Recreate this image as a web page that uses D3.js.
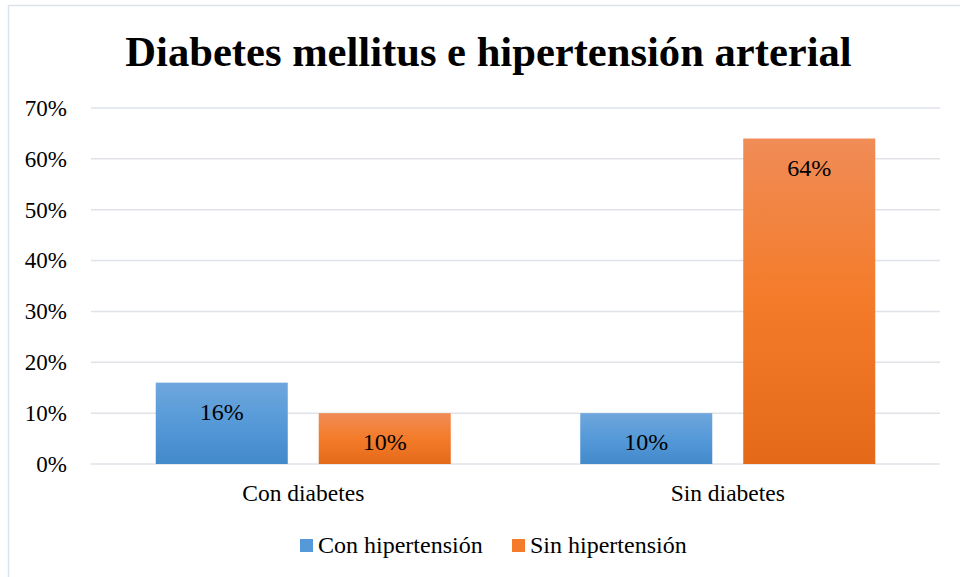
<!DOCTYPE html>
<meta charset="utf-8">
<script src="https://d3js.org/d3.v7.min.js"></script>
<style>
  body { margin: 0; background: #fff; }
  text { font-family: "Liberation Serif", "Times New Roman", serif; fill: #000; }
</style>
<div id="my_dataviz"></div>
<script>

// data
var categories = ["Con diabetes", "Sin diabetes"];
var seriesNames = ["Con hipertensión", "Sin hipertensión"];
var conHipertension = [0.16, 0.10];
var sinHipertension = [0.10, 0.64];
var yTicks = [0, 0.1, 0.2, 0.3, 0.4, 0.5, 0.6, 0.7];

var W = 960, H = 577;
var margin = {top: 108, right: 20, bottom: 113, left: 91},
    width = 940 - margin.left,
    height = 464 - margin.top;

var svg = d3.select("#my_dataviz")
  .append("svg")
    .attr("width", W)
    .attr("height", H);

// gradients for the bars
var defs = svg.append("defs");
var gBlue = defs.append("linearGradient").attr("id", "gBlue").attr("x1", 0).attr("y1", 0).attr("x2", 0).attr("y2", 1);
gBlue.append("stop").attr("offset", "0%").attr("stop-color", "#6fa7dd");
gBlue.append("stop").attr("offset", "50%").attr("stop-color", "#5599d8");
gBlue.append("stop").attr("offset", "100%").attr("stop-color", "#438acb");
var gOrange = defs.append("linearGradient").attr("id", "gOrange").attr("x1", 0).attr("y1", 0).attr("x2", 0).attr("y2", 1);
gOrange.append("stop").attr("offset", "0%").attr("stop-color", "#f08c57");
gOrange.append("stop").attr("offset", "50%").attr("stop-color", "#f47b29");
gOrange.append("stop").attr("offset", "100%").attr("stop-color", "#e46a1a");

// chart frame (top and left edges visible)
svg.append("path")
  .attr("d", "M8.5," + H + " V5.5 H" + W)
  .attr("fill", "none")
  .attr("stroke", "#dde3ea")
  .attr("stroke-width", 1.5);

// title
svg.append("text")
  .attr("x", 488.5)
  .attr("y", 66)
  .attr("text-anchor", "middle")
  .style("font-size", "42.6px")
  .style("font-weight", "bold")
  .text("Diabetes mellitus e hipertensión arterial");

var g = svg.append("g")
  .attr("transform", "translate(" + margin.left + "," + margin.top + ")");

var x0 = d3.scaleBand()
  .domain(categories)
  .range([0, width]);

var groupW = 295;
var x1 = d3.scaleBand()
  .domain(seriesNames)
  .range([0, groupW])
  .paddingInner(0.19);

var y = d3.scaleLinear()
  .domain([0, 0.7])
  .range([height, 0]);

// gridlines
g.append("g")
  .selectAll("line")
  .data(yTicks)
  .enter()
  .append("line")
    .attr("x1", 0)
    .attr("x2", width)
    .attr("y1", function(d) { return y(d); })
    .attr("y2", function(d) { return y(d); })
    .attr("stroke", "#dfe3e8")
    .attr("stroke-width", 1.5);

// Y axis labels
var yAxis = g.append("g")
  .attr("transform", "translate(-21,0)")
  .call(d3.axisLeft(y).tickValues(yTicks).tickSize(0).tickFormat(d3.format(".0%")));
yAxis.select(".domain").remove();
yAxis.selectAll("text")
  .style("font-size", "23px")
  .style("font-family", "Liberation Serif, Times New Roman, serif")
  .attr("dy", "0.32em");

// X axis labels
var xAxis = g.append("g")
  .attr("transform", "translate(0," + height + ")")
  .call(d3.axisBottom(x0).tickSize(0).tickPadding(20));
xAxis.select(".domain").remove();
xAxis.selectAll("text")
  .style("font-size", "23.5px")
  .style("font-family", "Liberation Serif, Times New Roman, serif");

// bars
var table = categories.map(function(c, i) {
  return [
    {cat: c, key: seriesNames[0], value: conHipertension[i], fill: "url(#gBlue)"},
    {cat: c, key: seriesNames[1], value: sinHipertension[i], fill: "url(#gOrange)"}
  ];
});

var groups = g.selectAll(".grp")
  .data(table)
  .enter()
  .append("g")
    .attr("class", "grp")
    .attr("transform", function(d, i) {
      return "translate(" + (x0(categories[i]) + (x0.bandwidth() - groupW) / 2) + ",0)";
    });

groups.selectAll("rect")
  .data(function(d) { return d; })
  .enter()
  .append("rect")
    .attr("x", function(d) { return x1(d.key); })
    .attr("y", function(d) { return y(d.value); })
    .attr("width", x1.bandwidth())
    .attr("height", function(d) { return height - y(d.value); })
    .attr("fill", function(d) { return d.fill; });

groups.selectAll(".lbl")
  .data(function(d) { return d; })
  .enter()
  .append("text")
    .attr("class", "lbl")
    .attr("x", function(d) { return x1(d.key) + x1.bandwidth() / 2; })
    .attr("y", function(d) { return y(d.value) + 37; })
    .attr("text-anchor", "middle")
    .style("font-size", "24px")
    .text(function(d) { return d3.format(".0%")(d.value); });

// legend
var legendColors = ["#5599d8", "#f47b29"];
var legendX = [300, 512];
var legend = svg.selectAll(".legend")
  .data(seriesNames)
  .enter()
  .append("g")
    .attr("class", "legend")
    .attr("transform", function(d, i) { return "translate(" + legendX[i] + ",539)"; });
legend.append("rect")
  .attr("width", 13)
  .attr("height", 13)
  .attr("fill", function(d, i) { return legendColors[i]; });
legend.append("text")
  .attr("x", 18)
  .attr("y", 14)
  .style("font-size", "24px")
  .text(function(d) { return d; });

</script>
